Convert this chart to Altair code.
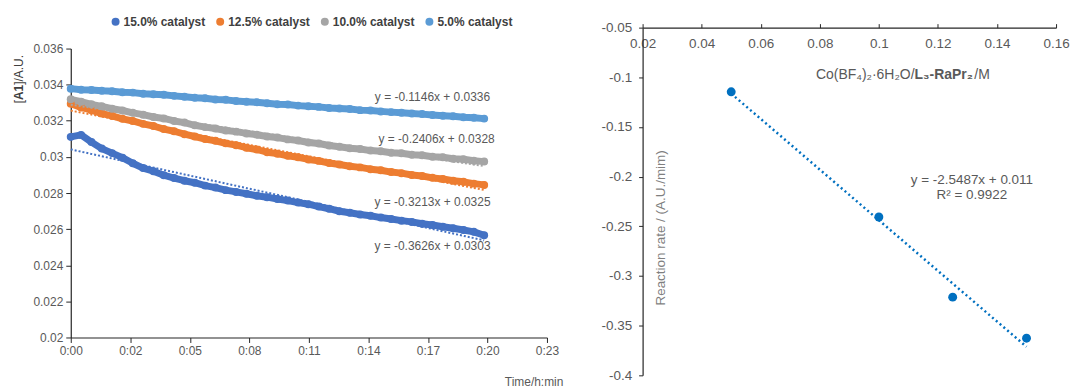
import altair as alt
import pandas as pd

# ---------------- data (left panel) ----------------
TIME_MIN = [0, 0.5, 1, 1.5, 2, 2.5, 3, 3.5, 4, 4.5,
            5, 5.5, 6, 6.5, 7, 7.5, 8, 8.5, 9, 9.5,
            10, 10.5, 11, 11.5, 12, 12.5, 13, 13.5, 14, 14.5,
            15, 15.5, 16, 16.5, 17, 17.5, 18, 18.5, 19, 19.5, 20]

CAT_15 = [0.03111, 0.03122, 0.03082, 0.03046, 0.03021, 0.02996, 0.02965, 0.02938, 0.02921, 0.02899,
          0.02883, 0.02868, 0.02857, 0.02841, 0.02830, 0.02816, 0.02806, 0.02796, 0.02785, 0.02777,
          0.02767, 0.02758, 0.02747, 0.02738, 0.02725, 0.02713, 0.02699, 0.02691, 0.02681, 0.02674,
          0.02664, 0.02656, 0.02647, 0.02640, 0.02630, 0.02623, 0.02613, 0.02605, 0.02595, 0.02585, 0.02566]

CAT_125 = [0.03295, 0.03274, 0.03259, 0.03240, 0.03227, 0.03211, 0.03199, 0.03183, 0.03171, 0.03154,
           0.03142, 0.03126, 0.03113, 0.03099, 0.03089, 0.03075, 0.03065, 0.03051, 0.03041, 0.03026,
           0.03018, 0.03006, 0.02998, 0.02986, 0.02978, 0.02966, 0.02958, 0.02948, 0.02942, 0.02932,
           0.02926, 0.02916, 0.02910, 0.02900, 0.02894, 0.02884, 0.02878, 0.02868, 0.02862, 0.02852, 0.02845]

CAT_10 = [0.03319, 0.03306, 0.03291, 0.03280, 0.03267, 0.03257, 0.03244, 0.03234, 0.03221, 0.03213,
          0.03199, 0.03190, 0.03175, 0.03165, 0.03157, 0.03146, 0.03140, 0.03130, 0.03123, 0.03113,
          0.03107, 0.03097, 0.03091, 0.03080, 0.03074, 0.03063, 0.03056, 0.03048, 0.03044, 0.03035,
          0.03031, 0.03023, 0.03020, 0.03012, 0.03009, 0.03001, 0.02998, 0.02990, 0.02987, 0.02979, 0.02974]

CAT_5 = [0.03378, 0.03372, 0.03370, 0.03366, 0.03364, 0.03358, 0.03356, 0.03350, 0.03347, 0.03344,
         0.03338, 0.03333, 0.03328, 0.03325, 0.03318, 0.03316, 0.03310, 0.03306, 0.03303, 0.03297,
         0.03292, 0.03290, 0.03284, 0.03280, 0.03277, 0.03271, 0.03268, 0.03265, 0.03259, 0.03257,
         0.03252, 0.03248, 0.03244, 0.03240, 0.03237, 0.03232, 0.03228, 0.03225, 0.03220, 0.03217, 0.03212]

SERIES = ["15.0% catalyst", "12.5% catalyst", "10.0% catalyst", "5.0% catalyst"]
COLORS = ["#4472C4", "#ED7D31", "#A5A5A5", "#5B9BD5"]

EQ_TEXT = ["y = -0.3626x + 0.0303", "y = -0.3213x + 0.0325",
           "y = -0.2406x + 0.0328", "y = -0.1146x + 0.0336"]
EQ_T = [17.5, 17.5, 17.7, 17.5]
EQ_V = [0.02504, 0.02752, 0.03099, 0.0333]

X_TICKS_MIN = [0, 2.88, 5.76, 8.64, 11.52, 14.4, 17.28, 20.16, 23.04]
Y_TICKS_LEFT = [0.02, 0.022, 0.024, 0.026, 0.028, 0.03, 0.032, 0.034, 0.036]

# ---------------- data (right panel) ----------------
LOADING = [0.05, 0.1, 0.125, 0.15]
RATE = [-0.1146, -0.2406, -0.3213, -0.3626]
X_TICKS_RIGHT = [0.02, 0.04, 0.06, 0.08, 0.1, 0.12, 0.14, 0.16]
Y_TICKS_RIGHT = [-0.05, -0.1, -0.15, -0.2, -0.25, -0.3, -0.35, -0.4]
FIT_TEXT = ["y = -2.5487x + 0.011", "R\u00b2 = 0.9922"]
FIT_X = [0.1315, 0.1315]
FIT_Y = [-0.2034, -0.2185]

FONT = "Liberation Sans"

rows = []
for name, vals in zip(SERIES, [CAT_15, CAT_125, CAT_10, CAT_5]):
    for t, v in zip(TIME_MIN, vals):
        rows.append({"series": name, "t": t, "v": v})
left_df = pd.DataFrame(rows)

eq_df = pd.DataFrame({"label": EQ_TEXT, "t": EQ_T, "v": EQ_V})


def txt(s, x, y, **kw):
    return alt.Chart(pd.DataFrame({"s": [s]})).mark_text(font=FONT, **kw).encode(
        text="s:N", x=alt.value(x), y=alt.value(y))


LEFT_W = 478
LEFT_H = 311      # group height (plot top aligned with right panel)
LEFT_TOP = 21     # the left y-scale starts this far below the group top
RIGHT_W = 415
RIGHT_H = 349

x_left = alt.X(
    "t:Q",
    scale=alt.Scale(domain=[0, 23.04], nice=False, zero=False),
    axis=alt.Axis(
        values=X_TICKS_MIN,
        labelExpr="'0:' + (floor(datum.value + 0.001) < 10 ? '0' : '') + floor(datum.value + 0.001)",
        labelFlush=False, labelOverlap=False, labelFontSize=12, labelPadding=3, tickSize=5,
        title="Time/h:min", titleFontSize=12, titleFontWeight="normal", titleColor="#595959",
        titleAnchor="end", titleAlign="right", titleBaseline="alphabetic", titleX=494, titleY=48,
    ),
)
y_left = alt.Y(
    "v:Q",
    scale=alt.Scale(domain=[0.02, 0.036], range=[LEFT_H, LEFT_TOP], nice=False, zero=False),
    axis=alt.Axis(values=Y_TICKS_LEFT, tickCount=9, labelExpr="'' + datum.value", labelFontSize=12,
                  labelOverlap=False, labelPadding=3, tickSize=5, title=None),
)
color_enc = alt.Color(
    "series:N",
    scale=alt.Scale(domain=SERIES, range=COLORS),
    sort=SERIES,
    legend=alt.Legend(orient="none", legendX=39, legendY=-12, direction="horizontal", title=None,
                      symbolType="circle", symbolSize=64, symbolStrokeWidth=0, labelFont=FONT,
                      labelFontSize=12, labelFontWeight="bold", labelColor="#404040",
                      labelOffset=2, columnPadding=8, labelLimit=300),
)

base = alt.Chart(left_df)
lines = base.mark_line(strokeWidth=7, strokeCap="round", strokeJoin="round").encode(
    x=x_left, y=y_left, color=color_enc)
pts = base.mark_circle(size=64, opacity=1).encode(x=x_left, y=y_left, color=color_enc)
trend = base.transform_regression("t", "v", groupby=["series"]).mark_line(
    strokeWidth=2, strokeDash=[2, 2]).encode(x=x_left, y=y_left, color=color_enc)
eqs = alt.Chart(eq_df).mark_text(font=FONT, fontSize=12, color="#595959").encode(
    x=x_left, y=y_left, text="label:N")

ytitle = (txt("[", -52, 76, angle=270, align="left", baseline="middle", fontSize=12, color="#404040")
          + txt("A1", -52, 72.7, angle=270, align="left", baseline="middle", fontSize=12,
                fontWeight="bold", color="#404040")
          + txt("]/A.U.", -52, 57.4, angle=270, align="left", baseline="middle", fontSize=12,
                color="#404040"))

left = alt.layer(lines, pts, trend, eqs, ytitle).properties(width=LEFT_W, height=LEFT_H)

# ---------------- right panel ----------------
right_df = pd.DataFrame({"loading": LOADING, "rate": RATE})
fit_df = pd.DataFrame({"loading": FIT_X, "rate": FIT_Y, "label": FIT_TEXT})

x_right = alt.X(
    "loading:Q",
    scale=alt.Scale(domain=[0.02, 0.16], nice=False, zero=False),
    axis=alt.Axis(orient="top", values=X_TICKS_RIGHT, labelExpr="'' + datum.value",
                  labelFlush=False, labelOverlap=False, labelFontSize=13.5, tickSize=4,
                  labelPadding=-20, labelBaseline="middle", title=None),
)
y_right = alt.Y(
    "rate:Q",
    scale=alt.Scale(domain=[-0.4, -0.05], nice=False, zero=False),
    axis=alt.Axis(values=Y_TICKS_RIGHT, labelExpr="'' + datum.value", labelFontSize=13.5,
                  labelOverlap=False, tickSize=4, labelPadding=7, title=None),
)

rbase = alt.Chart(right_df)
rpts = rbase.mark_circle(size=80, opacity=1, color="#0070C0").encode(x=x_right, y=y_right)
rfit = rbase.transform_regression("loading", "rate").mark_line(
    strokeWidth=2.5, strokeDash=[2, 3], color="#0070C0").encode(x=x_right, y=y_right)
rtext = alt.Chart(fit_df).mark_text(font=FONT, fontSize=13.5, color="#595959").encode(
    x=x_right, y=y_right, text="label:N")

rytitle = txt("Reaction rate / (A.U./mim)", 18, 201, angle=270, align="center",
              baseline="middle", fontSize=13.5, color="#7F7F7F")
rxtitle = (txt("Co(BF\u2084)\u2082\u00b76H\u2082O/", 174, 48, align="left", baseline="middle",
               fontSize=14, color="#595959")
           + txt("L\u2083-RaPr\u2082", 273, 48, align="left", baseline="middle", fontSize=14,
                 fontWeight="bold", color="#595959")
           + txt("/M", 333, 48, align="left", baseline="middle", fontSize=14, color="#595959"))

right = alt.layer(rfit, rpts, rtext, rytitle, rxtitle).properties(width=RIGHT_W, height=RIGHT_H)

chart = (
    alt.hconcat(left, right, spacing=38)
    .properties(padding={"left": 4, "top": 7, "right": 0, "bottom": 0}, background="white")
    .configure_view(stroke=None)
    .configure_axis(grid=False, labelFont=FONT, titleFont=FONT, labelColor="#595959",
                    domainColor="#262626", tickColor="#262626", domainWidth=1.2)
)

chart.save("out.html", embed_options={"renderer": "svg", "actions": False})
